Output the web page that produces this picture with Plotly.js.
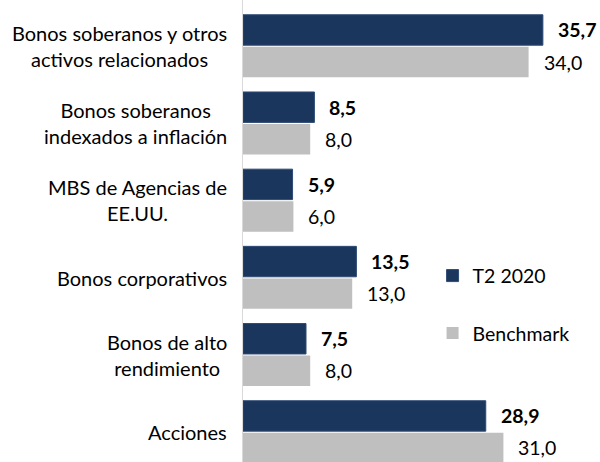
<!DOCTYPE html>
<html><head><meta charset="utf-8">
<script src="https://cdn.plot.ly/plotly-3.0.1.min.js"></script>
<style>html,body{margin:0;padding:0;background:#fff}</style>
</head><body><div id="chart" style="width:600px;height:462px"></div>
<script>
const categories = ["Bonos soberanos y otros<br>activos relacionados","Bonos soberanos<br>indexados a inflación","MBS de Agencias de<br>EE.UU.","Bonos corporativos","Bonos de alto<br>rendimiento","Acciones"];
const t2020 = [35.7, 8.5, 5.9, 13.5, 7.5, 28.9];
const benchmark = [34.0, 8.0, 6.0, 13.0, 8.0, 31.0];
const seriesNames = ["T2 2020", "Benchmark"];

const fmt = v => v.toFixed(1).replace('.', ',');
const idx = categories.map((c,i)=>i);

const traces = [
  {type:'bar', orientation:'h', name:seriesNames[0], y:idx, x:t2020, marker:{color:'#1b365d', line:{color:'#2e4a75', width:1}}, legendgroup:'a', hoverinfo:'skip'},
  {type:'bar', orientation:'h', name:seriesNames[1], y:idx, x:benchmark, marker:{color:'#bfbfbf'}, legendgroup:'b', hoverinfo:'skip'}
];

const FS = 19.5;
const ann = [];
const bw = 1 - 0.17, slot = bw/2;
idx.forEach(i=>{
  ann.push({x:0, y:i, xref:'paper', yref:'y', text:categories[i], showarrow:false, xanchor:'right', xshift:-14, align:'center', font:{size:20, color:'#000', family:'Lato'}});
  ann.push({x:t2020[i], y:i - slot/2, xref:'x', yref:'y', text:'<b>'+fmt(t2020[i])+'</b>', showarrow:false, xanchor:'left', xshift:13, font:{size:FS, color:'#000', family:'Lato'}});
  ann.push({x:benchmark[i], y:i + slot/2, xref:'x', yref:'y', text:fmt(benchmark[i]), showarrow:false, xanchor:'left', xshift:13, font:{size:FS, color:'#000', family:'Lato'}});
});

const layout = {
  width:600, height:462,
  margin:{l:243, r:0, t:0, b:0},
  font:{family:'Lato', size:FS, color:'#000'},
  barmode:'group', bargap:0.17, bargroupgap:0.05,
  paper_bgcolor:'#fff', plot_bgcolor:'#fff',
  xaxis:{range:[0,42.5], showgrid:false, zeroline:false, showticklabels:false, showline:false, fixedrange:true},
  yaxis:{tickmode:'array', tickvals:idx, range:[5.389,-0.596], showgrid:false, zeroline:false,
         showline:true, linecolor:'#d9d9d9', linewidth:1, ticks:'', showticklabels:false},
  showlegend:true,
  legend:{x:0.531, xanchor:'left', y:0.445, yanchor:'top', traceorder:'grouped', tracegroupgap:29, font:{size:FS, color:'#000'}, bgcolor:'rgba(0,0,0,0)'},
  annotations:ann
};
Plotly.newPlot('chart', traces, layout, {staticPlot:true, displayModeBar:false});
</script></body></html>
